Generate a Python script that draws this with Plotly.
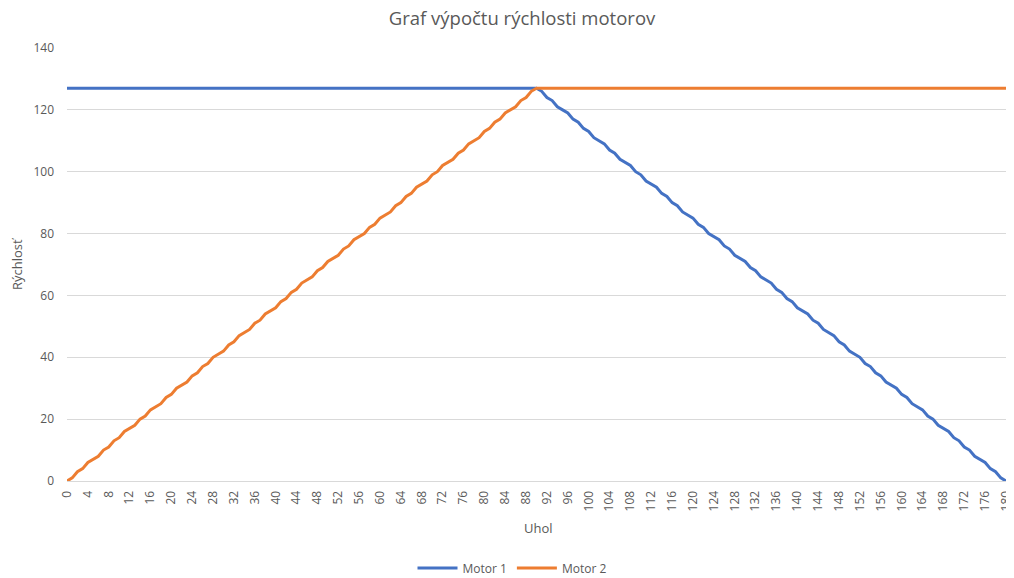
import plotly.graph_objects as go

uhol = list(range(0, 181))

motor1 = [
    127, 127, 127, 127, 127, 127, 127, 127, 127, 127,
    127, 127, 127, 127, 127, 127, 127, 127, 127, 127,
    127, 127, 127, 127, 127, 127, 127, 127, 127, 127,
    127, 127, 127, 127, 127, 127, 127, 127, 127, 127,
    127, 127, 127, 127, 127, 127, 127, 127, 127, 127,
    127, 127, 127, 127, 127, 127, 127, 127, 127, 127,
    127, 127, 127, 127, 127, 127, 127, 127, 127, 127,
    127, 127, 127, 127, 127, 127, 127, 127, 127, 127,
    127, 127, 127, 127, 127, 127, 127, 127, 127, 127,
    127,
    126, 124, 123, 121, 120, 119, 117, 116, 114, 113,
    111, 110, 109, 107, 106, 104, 103, 102, 100, 99,
    97, 96, 95, 93, 92, 90, 89, 87, 86, 85,
    83, 82, 80, 79, 78, 76, 75, 73, 72, 71,
    69, 68, 66, 65, 64, 62, 61, 59, 58, 56,
    55, 54, 52, 51, 49, 48, 47, 45, 44, 42,
    41, 40, 38, 37, 35, 34, 32, 31, 30, 28,
    27, 25, 24, 23, 21, 20, 18, 17, 16, 14,
    13, 11, 10, 8, 7, 6, 4, 3, 1, 0,
]

motor2 = [
    0, 1, 3, 4, 6, 7, 8, 10, 11, 13,
    14, 16, 17, 18, 20, 21, 23, 24, 25, 27,
    28, 30, 31, 32, 34, 35, 37, 38, 40, 41,
    42, 44, 45, 47, 48, 49, 51, 52, 54, 55,
    56, 58, 59, 61, 62, 64, 65, 66, 68, 69,
    71, 72, 73, 75, 76, 78, 79, 80, 82, 83,
    85, 86, 87, 89, 90, 92, 93, 95, 96, 97,
    99, 100, 102, 103, 104, 106, 107, 109, 110, 111,
    113, 114, 116, 117, 119, 120, 121, 123, 124, 126,
    127,
    127, 127, 127, 127, 127, 127, 127, 127, 127, 127,
    127, 127, 127, 127, 127, 127, 127, 127, 127, 127,
    127, 127, 127, 127, 127, 127, 127, 127, 127, 127,
    127, 127, 127, 127, 127, 127, 127, 127, 127, 127,
    127, 127, 127, 127, 127, 127, 127, 127, 127, 127,
    127, 127, 127, 127, 127, 127, 127, 127, 127, 127,
    127, 127, 127, 127, 127, 127, 127, 127, 127, 127,
    127, 127, 127, 127, 127, 127, 127, 127, 127, 127,
    127, 127, 127, 127, 127, 127, 127, 127, 127, 127,
]

x_ticks = list(range(0, 181, 4))
y_ticks = [0, 20, 40, 60, 80, 100, 120, 140]

FONT = "Open Sans"
GRAY = "#595959"
OFF = 8  # default page body margin
W, H = 1014 - OFF, 578 - OFF
L, R, T, B = 67 - OFF, 8, 48 - OFF, 97
PW, PH = W - L - R, H - T - B


def px_x(x):
    return (x - OFF - L) / PW


def px_y(y):
    return (H - B - (y - OFF)) / PH


fig = go.Figure()
fig.add_trace(go.Scatter(x=uhol, y=motor1, mode="lines", name="Motor 1",
                         line=dict(color="#4472C4", width=3)))
fig.add_trace(go.Scatter(x=uhol, y=motor2, mode="lines", name="Motor 2",
                         line=dict(color="#ED7D31", width=3)))

fig.update_layout(
    width=W, height=H,
    paper_bgcolor="white", plot_bgcolor="white",
    margin=dict(l=L, r=R, t=T, b=B, autoexpand=False),
    font=dict(family=FONT, color=GRAY, size=12),
    title=dict(text="Graf výpočtu rýchlosti motorov", x=px_x(522), xanchor="center",
               xref="paper", yref="container", y=1 - (19 - OFF) / H, yanchor="middle",
               font=dict(size=18.5, color=GRAY, family=FONT)),
    xaxis=dict(range=[0, 180], tickmode="array", tickvals=x_ticks,
               ticktext=[str(v) for v in x_ticks], tickangle=-90,
               showgrid=False, zeroline=False, showline=True,
               linecolor="#d9d9d9", linewidth=1, ticks="", automargin=False,
               ticklabelstandoff=4,
               tickfont=dict(size=12, color=GRAY)),
    yaxis=dict(range=[0, 140], tickmode="array", tickvals=y_ticks,
               showgrid=True, gridcolor="#d9d9d9", gridwidth=1, zeroline=False,
               showline=False, ticks="", automargin=False,
               ticklabelstandoff=12,
               tickfont=dict(size=12, color=GRAY)),
    legend=dict(orientation="h", x=px_x(512), xanchor="center", y=px_y(568), yanchor="middle",
                font=dict(size=12, color=GRAY), itemwidth=40),
    showlegend=True,
    annotations=[
        dict(text="Uhol", xref="paper", yref="paper", x=px_x(538),
             y=px_y(528), xanchor="center", yanchor="middle",
             showarrow=False, font=dict(size=13, color=GRAY)),
        dict(text="Rýchlosť", xref="paper", yref="paper", x=px_x(17),
             y=px_y(264), xanchor="center", yanchor="middle", textangle=-90,
             showarrow=False, font=dict(size=13, color=GRAY)),
    ],
)

fig.write_html("out.html")
